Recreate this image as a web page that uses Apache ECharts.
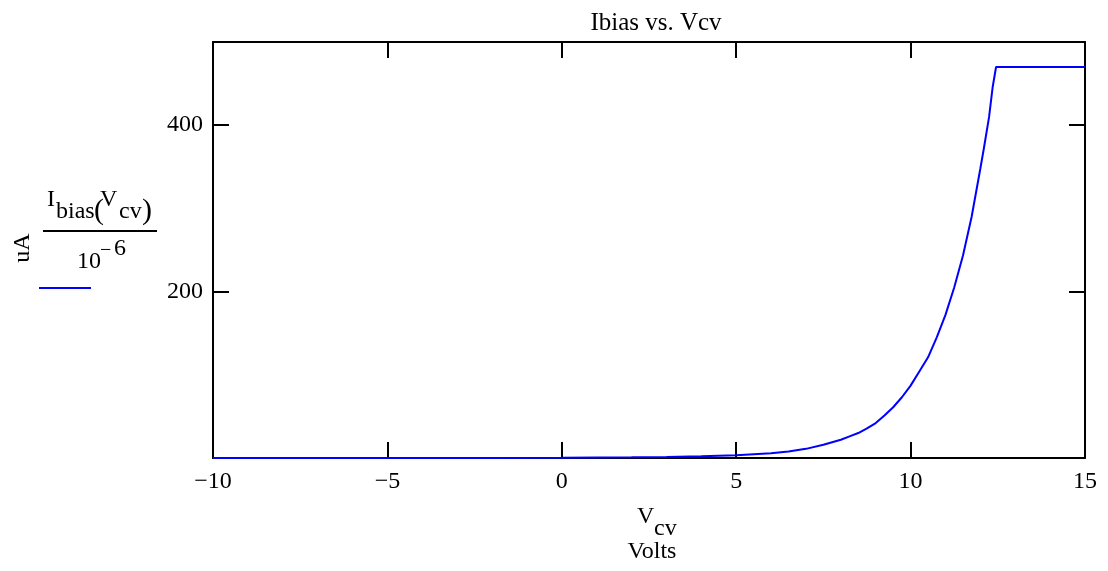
<!DOCTYPE html>
<html>
<head>
<meta charset="utf-8">
<script src="https://cdn.jsdelivr.net/npm/echarts@6/dist/echarts.min.js"></script>
<style>
  html, body { margin: 0; padding: 0; background: #fff; }
  #chart { width: 1108px; height: 571px; }
</style>
</head>
<body>
<div id="chart"></div>
<script>
// control voltage (V) and bias current (uA)
var vcv = [-10, -8, -6, -4, -2, 0, 1, 2, 3, 4, 5, 5.5, 6, 6.5, 7, 7.5, 7.75, 8, 8.25, 8.5, 8.75, 9, 9.25, 9.5, 9.75,
           10, 10.25, 10.5, 10.75, 11, 11.25, 11.5, 11.75, 12, 12.1, 12.25, 12.35, 12.45, 15];
var ibias = [0.01, 0.02, 0.04, 0.07, 0.15, 0.3, 0.5, 0.8, 1.3, 2.0, 3.2, 4.5, 5.8, 7.8, 11, 16, 19, 22, 26, 30, 35.6, 42, 51, 61, 73,
             87, 104, 121, 145, 172, 205, 243, 290, 348, 372, 410, 445, 470, 470];
var xTicks = [-10, -5, 0, 5, 10, 15];
var yTicks = [200, 400];

var serif = 'Liberation Serif';
var chart = echarts.init(document.getElementById('chart'));

var pts = vcv.map(function (v, i) { return [v, ibias[i]]; });

function axisBase(extra) {
  var a = {
    type: 'value',
    axisLine: { show: true, onZero: false, lineStyle: { color: '#000', width: 2 } },
    axisTick: { show: true, inside: true, length: 16, lineStyle: { color: '#000', width: 2 } },
    splitLine: { show: false },
    axisLabel: { show: false }
  };
  for (var k in extra) a[k] = extra[k];
  return a;
}

function txt(s, x, y, size, extra) {
  var st = { text: s, font: size + 'px ' + serif, fill: '#000', verticalAlign: 'middle' };
  for (var k in extra) st[k] = extra[k];
  return { type: 'text', x: x, y: y, style: st };
}

var option = {
  backgroundColor: '#fff',
  animation: false,
  title: {
    text: 'Ibias vs. Vcv',
    left: 651, top: 6, textAlign: 'center',
    textStyle: { fontFamily: serif, fontSize: 25, fontWeight: 'normal', color: '#000' }
  },
  grid: { left: 213, right: 23, top: 42, bottom: 113 },
  xAxis: [
    axisBase({
      min: -10, max: 15, interval: 5, position: 'bottom',
      axisLabel: {
        show: true, margin: 12, color: '#000', fontFamily: serif, fontSize: 24,
        formatter: function (v) { return xTicks.indexOf(v) < 0 ? '' : String(v).replace('-', '\u2212'); }
      }
    }),
    axisBase({ min: -10, max: 15, interval: 5, position: 'top' })
  ],
  yAxis: [
    axisBase({
      min: 0, max: 500, interval: 200, position: 'left',
      axisLabel: {
        show: true, margin: 10, color: '#000', fontFamily: serif, fontSize: 24,
        formatter: function (v) { return yTicks.indexOf(v) < 0 ? '' : String(v); }
      }
    }),
    axisBase({ min: 0, max: 500, interval: 200, position: 'right' })
  ],
  series: [{
    type: 'line',
    data: pts,
    showSymbol: false,
    smooth: false,
    lineStyle: { color: '#0000ff', width: 2 },
    itemStyle: { color: '#0000ff' },
    z: 1
  }],
  graphic: [
    // y-axis label block
    txt('uA', 23, 248, 24, { align: 'center' }),
    txt('I', 47, 200, 24),
    txt('bias', 56, 212, 24),
    txt('(', 94, 211, 30),
    txt('V', 100, 200, 24),
    txt('cv', 119, 212, 24),
    txt(')', 142, 211, 30),
    { type: 'line', shape: { x1: 43, y1: 231, x2: 157, y2: 231 }, style: { stroke: '#000', lineWidth: 2 } },
    txt('10', 77, 262, 24),
    txt('\u2212', 100, 251, 20),
    txt('6', 114, 249, 24),
    { type: 'line', shape: { x1: 39, y1: 288, x2: 91, y2: 288 }, style: { stroke: '#0000ff', lineWidth: 2 } },
    // x-axis label block
    txt('V', 637, 517, 24),
    txt('cv', 654, 529, 24),
    txt('Volts', 652, 552, 24, { align: 'center' })
  ]
};
option.graphic[0].rotation = Math.PI / 2;

chart.setOption(option);
</script>
</body>
</html>
